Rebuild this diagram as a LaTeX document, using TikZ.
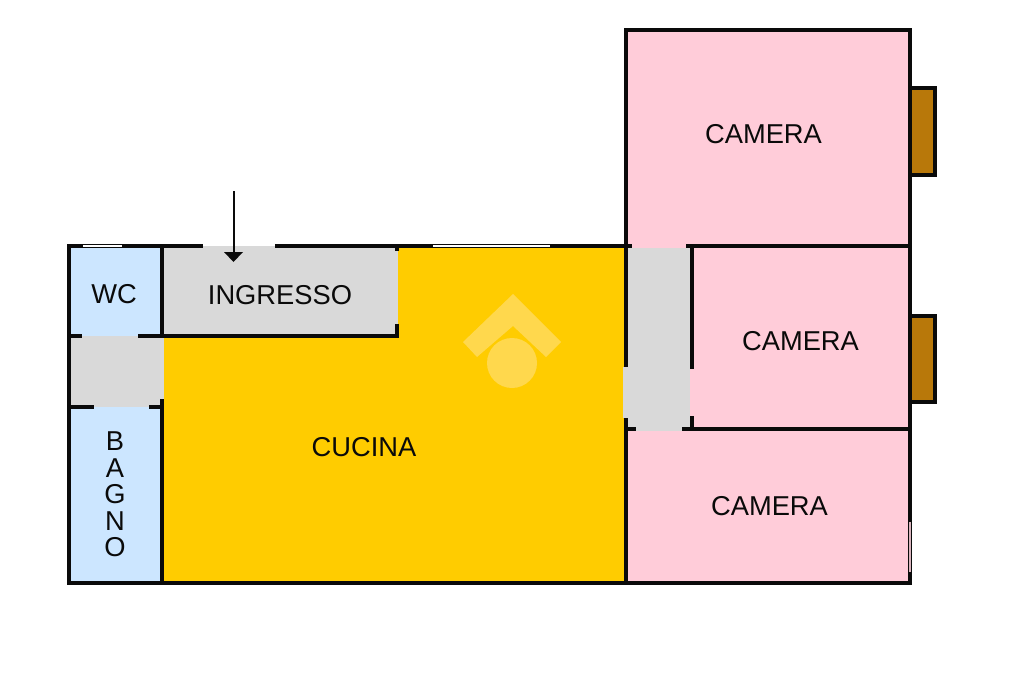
\documentclass[tikz,border=0pt]{standalone}
\usepackage{fontspec}
\setmainfont{Liberation Sans}
\definecolor{pinkroom}{HTML}{FFCCD9}
\definecolor{blueroom}{HTML}{CCE6FF}
\definecolor{yellowroom}{HTML}{FFCC00}
\definecolor{grayroom}{HTML}{D9D9D9}
\definecolor{balcony}{HTML}{B8780A}
\definecolor{logomark}{HTML}{FFD84D}
\definecolor{wallblack}{HTML}{0A0A0A}
\tikzset{
  wall/.style={draw=wallblack,line width=4pt,line cap=butt},
  thinmark/.style={draw=white,line width=1.3pt},
  label/.style={font=\fontsize{27.3}{30}\selectfont,text=wallblack,inner sep=0pt},
  balc/.style={fill=balcony,draw=wallblack,line width=4pt}
}
\begin{document}
\begin{tikzpicture}[x=1pt,y=-1pt]
\useasboundingbox (0,0) rectangle (1024,682);
% room fills
\fill[pinkroom] (625.5,30.5) rectangle (910,583);
\fill[yellowroom] (162,246) rectangle (625.5,583);
\fill[blueroom] (69,246) rectangle (162,583);
\fill[grayroom] (162,246) rectangle (398,336);
\fill[grayroom] (69,336) rectangle (164,407);
\fill[grayroom] (628,248) rectangle (690,431);
\fill[grayroom] (623,367) rectangle (628,418);
% watermark
\fill[logomark] (513,294) -- (561,342) -- (546,357) -- (513,326) -- (477,357) -- (463,342) -- cycle;
\fill[logomark] (512,363) circle (25);
% balconies
\draw[balc] (910,88.5) rectangle (935,175);
\draw[balc] (910,315.5) rectangle (935,402);
% walls
\draw[wall] (69,246) rectangle (910,583);
\fill[white] (203,244) rectangle (275,249);
\fill[grayroom] (203,246) rectangle (275,249);
\draw[wall] (625.5,246) -- (625.5,30.5) -- (910,30.5) -- (910,246);
\fill[pinkroom] (632,244) rectangle (686,248);
\draw[wall] (162,246) -- (162,338);
\draw[wall] (160,336) -- (399,336);
\draw[wall] (397,324) -- (397,338);
\draw[wall] (397,246) -- (397,251);
\draw[wall] (69,336) -- (82,336);
\draw[wall] (138,336) -- (162,336);
\draw[wall] (69,407) -- (94,407);
\draw[wall] (149,407) -- (162,407);
\draw[wall] (162,399) -- (162,583);
\draw[wall] (625.5,246) -- (625.5,367);
\draw[wall] (625.5,418) -- (625.5,583);
\draw[wall] (624,429) -- (636,429);
\draw[wall] (682,429) -- (910,429);
\draw[wall] (686,246) -- (910,246);
\draw[wall] (692,246) -- (692,369);
\draw[wall] (692,416) -- (692,431);
% thin marks on the walls
\draw[thinmark] (83,246) -- (122,246);
\draw[thinmark] (433,246) -- (550,246);
\draw[draw=pinkroom!70!gray,line width=1.3pt] (910,522) -- (910,572);
% labels
\node[label] (wc) at (114,294) {WC};
\node[label] (ingresso) at (280,295) {INGRESSO};
\node[label] (cucina) at (364,447) {CUCINA};
\node[label] (cam1) at (763.5,134) {CAMERA};
\node[label] (cam2) at (800.5,341) {CAMERA};
\node[label] (cam3) at (769.5,506) {CAMERA};
\node[label,align=center,font=\fontsize{27.3}{26.5}\selectfont] (bagno) at (115,494.5) {B\\A\\G\\N\\O};
% entrance arrow
\coordinate (arrowstart) at (233.5,191);
\coordinate (arrowend) at (233.5,262);
\coordinate (arrowbase) at (233.5,252);
\draw[draw=wallblack,line width=2pt] (arrowstart) -- (arrowbase);
\fill[wallblack] (arrowend) -- (224,252) -- (243,252) -- cycle;
\end{tikzpicture}
\end{document}
